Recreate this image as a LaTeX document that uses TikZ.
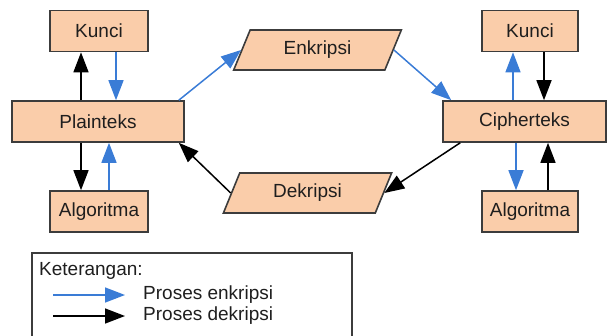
\documentclass[tikz,border=0pt]{standalone}
\usepackage{fontspec}
\setmainfont{Liberation Sans}
\usetikzlibrary{arrows.meta,shapes.geometric}
\definecolor{boxfill}{RGB}{250,205,170}
\definecolor{boxline}{RGB}{60,60,60}
\definecolor{enkblue}{RGB}{58,124,214}
\definecolor{txt}{RGB}{30,30,30}
\begin{document}
\begin{tikzpicture}[x=1pt, y=-1pt,
    font=\fontsize{19}{22}\selectfont, text=txt,
    kotak/.style={draw=boxline, fill=boxfill, line width=1.6pt, inner sep=0pt,
        minimum height=41pt},
    jajar/.style={kotak, shape=trapezium, trapezium left angle=65,
        trapezium right angle=115, trapezium stretches=true,
        minimum width=169pt, minimum height=40pt},
    enkarrow/.style={draw=enkblue, line width=1.5pt, -{Triangle[length=20pt,width=15pt]}},
    dekarrow/.style={draw=black, line width=1.5pt, -{Triangle[length=20pt,width=15pt]}}]
    \useasboundingbox (0,0) rectangle (607,335);

    % Sisi pengirim
    \node[kotak, minimum width=98pt] (kunciP) at (99,31) {Kunci};
    \node[kotak, minimum width=172pt] (plain) at (98,121.5) {Plainteks};
    \node[kotak, minimum width=98pt] (algoP) at (99,211.5) {Algoritma};

    % Sisi penerima
    \node[kotak, minimum width=96pt] (kunciC) at (530,31) {Kunci};
    \node[kotak, minimum width=163pt] (cipher) at (524.5,121.5) {Cipherteks};
    \node[kotak, minimum width=96pt] (algoC) at (530,211.5) {Algoritma};

    % Proses
    \node[jajar] (enk) at (317.5,50) {Enkripsi};
    \node[jajar] (dek) at (307.5,193) {Dekripsi};

    % Panah kiri
    \draw[dekarrow] ([xshift=-17pt]plain.north) -- ([xshift=-18pt]kunciP.south);
    \draw[enkarrow] ([xshift=17pt]kunciP.south) -- ([xshift=18pt]plain.north);
    \draw[dekarrow] ([xshift=-17pt]plain.south) -- ([xshift=-18pt]algoP.north);
    \draw[enkarrow] ([xshift=10pt]algoP.north) -- ([xshift=11pt]plain.south);

    % Panah kanan
    \draw[enkarrow] ([xshift=-11.5pt]cipher.north) -- ([xshift=-17pt]kunciC.south);
    \draw[dekarrow] ([xshift=14pt]kunciC.south) -- ([xshift=19.5pt]cipher.north);
    \draw[enkarrow] ([xshift=-8.5pt]cipher.south) -- ([xshift=-14pt]algoC.north);
    \draw[dekarrow] ([xshift=18pt]algoC.north) -- ([xshift=23.5pt]cipher.south);

    % Alur enkripsi dan dekripsi
    \draw[enkarrow] ([xshift=-6pt]plain.north east) -- (enk.west);
    \draw[enkarrow] (enk.east) -- ([xshift=9pt]cipher.north west);
    \draw[dekarrow] ([xshift=18pt]cipher.south west) -- (dek.east);
    \draw[dekarrow] (dek.west) -- ([xshift=-6pt]plain.south east);

    % Keterangan
    \draw[boxline, line width=1.2pt] (32,340) -- (32,253) -- (352,253) -- (352,340);
    \node[anchor=west, inner sep=0pt] (ket) at (39,271) {Keterangan:};
    \coordinate (e1) at (53,295);
    \coordinate (e2) at (125,295);
    \coordinate (d1) at (53,316);
    \coordinate (d2) at (125,316);
    \draw[enkarrow] (e1) -- (e2);
    \draw[dekarrow] (d1) -- (d2);
    \node[anchor=west, inner sep=0pt] (ketE) at (143,295) {Proses enkripsi};
    \node[anchor=west, inner sep=0pt] (ketD) at (143,316) {Proses dekripsi};
\end{tikzpicture}
\end{document}
